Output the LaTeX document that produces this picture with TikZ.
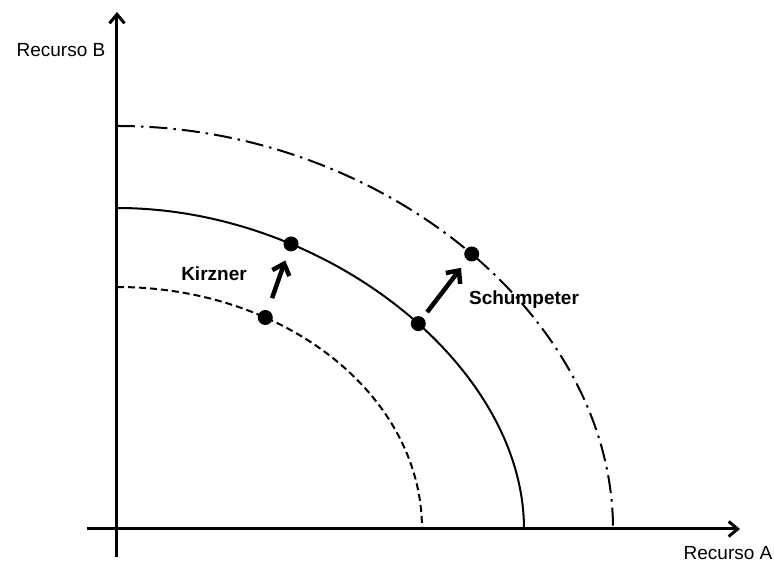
\documentclass[tikz,border=0pt]{standalone}
\usepackage{fontspec}
\setmainfont{Liberation Sans}
\usetikzlibrary{arrows.meta}
\begin{document}
\begin{tikzpicture}[x=1pt, y=1pt, font=\fontsize{19}{22}\selectfont,
		axis/.style={line width=3pt, -{Straight Barb[length=9pt, width=15pt]}},
		shift arrow/.style={line width=4.5pt, -{Straight Barb[length=10pt, width=18pt]}},
		pt/.style={circle, fill=black, inner sep=0pt, minimum size=15pt},
		lbl/.style={anchor=base, font=\fontsize{19}{22}\selectfont\bfseries}]
		\useasboundingbox (-117,-35) rectangle (657,529);
		% axes
		\coordinate (ybot) at (0,-28);
		\coordinate (ytop) at (0,517);
		\coordinate (xleft) at (-30,0);
		\coordinate (xright) at (623,0);
		\draw[axis] (ybot) -- (ytop);
		\draw[axis] (xleft) -- (xright);
		\node[anchor=base] at (-56,472) {Recurso B};
		\node[anchor=base] at (611,-31) {Recurso A};
		% frontiers
		\draw[line width=2pt, dash pattern=on 7pt off 4pt]
			(0,242) .. controls (168,242) and (305,134) .. node[pt, pos=0.32] (k1) {} (305,0);
		\draw[line width=2pt]
			(0,321) .. controls (208,321) and (407,164) .. node[pt, pos=0.29] (k2) {} node[pt, pos=0.545] (s1) {} (407,0);
		\draw[line width=2pt, dash pattern=on 18pt off 6pt on 2.5pt off 6pt]
			(0,403) .. controls (263,403) and (496,214) .. node[pt, pos=0.515] (s2) {} (496,0);
		% shifts
		\draw[shift arrow, shorten <=12pt, shorten >=9pt] (k1) -- (k2);
		\draw[shift arrow, shorten <=6pt, shorten >=9pt] (s1) -- (s2);
		\node[lbl] at (97,248) {Kirzner};
		\node[lbl] at (407,224) {Schumpeter};
	\end{tikzpicture}
\end{document}
